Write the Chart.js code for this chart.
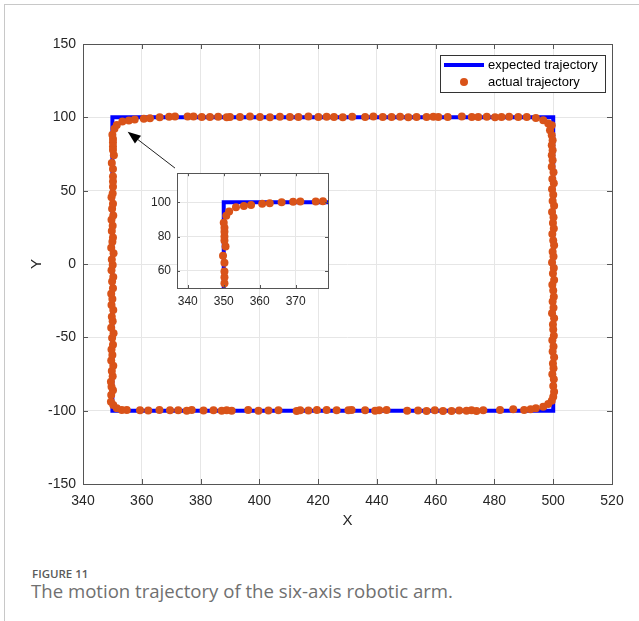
<!DOCTYPE html>
<html>
<head>
<meta charset="utf-8">
<script src="https://cdn.jsdelivr.net/npm/chart.js@4/dist/chart.umd.min.js"></script>
<style>
  body { margin: 0; background: #fff; width: 639px; height: 621px; overflow: hidden; position: relative; }
  .frame { position: absolute; left: 4px; top: 4px; right: -2px; bottom: -2px; border-top: 1px solid #c8c8c8; border-left: 1px solid #c8c8c8; }
  #main { position: absolute; left: 0; top: 0; }
  #inset { position: absolute; left: 130px; top: 160px; }
  .figno { position: absolute; left: 32px; top: 566px; font: 600 11.5px "Open Sans", sans-serif; color: #5a5a5a; }
  .caption { position: absolute; left: 31px; top: 578px; font: 400 18.6px "Open Sans", sans-serif; color: #707070; }
</style>
</head>
<body>
<div class="frame"></div>
<canvas id="main" width="639" height="540"></canvas>
<canvas id="inset" width="210" height="160"></canvas>
<div class="figno">FIGURE 11</div>
<div class="caption">The motion trajectory of the six-axis robotic arm.</div>
<script>
// expected path (rectangle), last point repeated so the corner gets a clean join
var expectedX = [350, 350, 500, 500, 350, 350];
var expectedY = [-100, 100, 100, -100, -100, 100];

// actual trajectory
var topX = [350.7,351.5,353.4,355.6,357.6,360.7,362.8,366.1,369.3,371.3,375.6,377.6,380.4,383.2,386.0,388.9,390.0,393.4,396.8,400.2,403.6,407.0,410.4,413.3,416.7,420.1,422.9,425.4,428.4,431.6,436.0,438.8,442.0,445.0,447.9,450.7,453.5,456.9,459.2,460.9,464.1,468.9,472.3,474.5,477.4,480.2,482.4,485.0,488.1,491.0,494.1,496.6,498.3,499.5];
var topY = [92.2,94.7,97.2,97.9,98.5,99.1,99.4,100.0,100.4,100.5,100.5,100.6,100.3,100.2,100.4,100.1,100.3,100.2,100.5,100.3,100.1,100.4,100.2,100.3,100.5,100.2,100.4,100.3,100.1,100.4,100.2,100.5,100.3,100.2,100.4,100.1,100.3,100.2,100.4,100.3,100.2,100.5,100.2,100.3,100.4,100.1,100.3,100.4,100.2,100.3,99.6,98.0,95.8,94.6];

var rightX = [498.9,499.5,499.8,499.5,499.8,499.5,499.8,499.5,500.1,499.7,500.2,499.6,500.0,499.8,500.3,499.6,500.1,499.9,500.2,499.7,500.0,500.3,499.8,500.1,499.6,500.2,499.9,500.3,499.7,500.0,500.2,499.8,500.1,499.6,500.3,499.9,500.0,500.2,499.7,500.1,499.8,500.3,499.9,500.1,499.7,500.2,500.0,500.3,500.0,499.5,498.3,496.6,494.1];
var rightY = [91.2,87.8,84.4,81.0,77.6,74.2,70.8,66.3,62.5,58.0,55.1,51.0,47.3,43.0,39.8,35.4,31.9,28.0,24.2,20.5,16.0,12.7,8.4,5.1,1.0,-2.8,-6.5,-10.9,-14.2,-18.0,-22.3,-25.6,-29.8,-33.5,-37.0,-41.2,-44.6,-48.9,-52.0,-56.3,-59.7,-63.5,-67.8,-71.0,-75.2,-78.6,-83.2,-87.1,-90.5,-93.2,-95.5,-97.3,-98.4];

var bottomX = [492.3,490.1,486.4,481.9,476.2,473.9,472.2,470.5,468.0,465.4,462.5,459.7,456.9,454.0,450.3,443.3,440.8,439.4,436.0,431.4,430.3,426.3,422.9,419.6,416.7,413.9,412.7,406.5,403.1,399.7,396.2,390.6,388.9,387.2,384.4,381.0,377.0,375.3,372.4,369.6,366.0,362.2,359.4,354.9,353.2,351.5,350.3];
var bottomY = [-99.1,-99.5,-99.1,-99.6,-99.8,-100.2,-99.7,-100.1,-99.9,-100.3,-100.2,-99.8,-100.3,-99.9,-100.1,-99.6,-99.8,-100.0,-99.7,-99.6,-99.8,-99.7,-99.5,-99.6,-99.9,-99.8,-100.2,-99.7,-99.9,-100.1,-99.6,-100.0,-99.8,-100.1,-99.7,-99.9,-99.6,-100.0,-99.7,-99.8,-99.6,-99.9,-99.7,-99.5,-99.5,-98.4,-96.1];

var leftX = [349.5,349.6,350.2,349.7,349.5,350.1,349.8,350.3,349.6,350.0,349.7,350.2,349.9,350.4,349.6,350.1,349.8,350.3,349.7,350.0,349.6,350.2,349.9,350.3,349.7,350.1,349.8,350.4,349.6,350.0,350.2,349.8,350.1,349.7,350.3,349.9,350.2,349.7,350.1,350.2,350.2,350.2,350.2,349.8,350.5,350.2,350.2,350.2,350.2,350.0];
var leftY = [-93.9,-89.3,-86.0,-83.7,-80.2,-76.5,-73.0,-69.4,-65.8,-62.1,-58.3,-55.0,-50.5,-47.2,-43.5,-39.0,-35.9,-31.4,-28.0,-23.8,-20.3,-16.5,-12.0,-8.8,-4.2,-0.6,3.0,7.4,11.0,15.1,18.0,22.5,26.0,30.2,33.0,37.6,41.0,45.5,48.0,52.7,56.3,59.7,64.8,68.8,74.2,77.7,80.1,82.8,85.2,88.1];

var xTicks = [340, 360, 380, 400, 420, 440, 460, 480, 500, 520];
var yTicks = [-150, -100, -50, 0, 50, 100, 150];
var insetXTicks = [340, 350, 360, 370];
var insetYTicks = [60, 80, 100];

// arrow from inset to the zoomed corner (data units)
var arrowFrom = [371.3, 65.4];
var arrowTo = [355.2, 90.2];

var BLUE = '#0000ff';
var ORANGE = '#d95319';
var AXIS = '#262626';
var FONT = '"Liberation Sans", Arial, Helvetica, sans-serif';

function toPoints(xs, ys){
    var out = [];
    for (var i = 0; i < xs.length; i++) out.push({x: xs[i], y: ys[i]});
    return out;
}
var actualPts = [].concat(toPoints(topX, topY), toPoints(rightX, rightY), toPoints(bottomX, bottomY), toPoints(leftX, leftY));
var expectedPts = toPoints(expectedX, expectedY);

// matlab style box with inward ticks
var framePlugin = {
    id: 'frame',
    afterDatasetsDraw: function(chart, args, opts){
        var a = chart.chartArea, ctx = chart.ctx;
        var len = opts.tick || 5;
        ctx.save();
        ctx.strokeStyle = opts.color || '#666';
        ctx.lineWidth = 1;
        ctx.beginPath();
        chart.scales.x.ticks.forEach(function(t){
            var px = Math.round(chart.scales.x.getPixelForValue(t.value)) + 0.5;
            ctx.moveTo(px, a.bottom); ctx.lineTo(px, a.bottom - len);
            ctx.moveTo(px, a.top); ctx.lineTo(px, a.top + len);
        });
        chart.scales.y.ticks.forEach(function(t){
            var py = Math.round(chart.scales.y.getPixelForValue(t.value)) + 0.5;
            ctx.moveTo(a.left, py); ctx.lineTo(a.left + len, py);
            ctx.moveTo(a.right, py); ctx.lineTo(a.right - len, py);
        });
        ctx.stroke();
        ctx.strokeRect(Math.round(a.left) + 0.5, Math.round(a.top) + 0.5, Math.round(a.right - a.left), Math.round(a.bottom - a.top));
        ctx.restore();
    }
};

var whiteBg = {
    id: 'whiteBg',
    beforeDraw: function(chart, args, opts){
        if (!opts.on) return;
        var a = chart.chartArea;
        chart.ctx.save();
        chart.ctx.fillStyle = '#fff';
        chart.ctx.fillRect(a.left, a.top, a.right - a.left, a.bottom - a.top);
        chart.ctx.restore();
    }
};

var legendBox = {
    id: 'legendBox',
    afterDraw: function(chart){
        var a = chart.chartArea, ctx = chart.ctx;
        var r = a.right - 7, t = a.top + 11, w = 165, h = 37;
        var l = r - w;
        ctx.save();
        ctx.fillStyle = '#fff';
        ctx.fillRect(l, t, w, h);
        ctx.strokeStyle = '#333';
        ctx.lineWidth = 1;
        ctx.strokeRect(Math.round(l) + 0.5, Math.round(t) + 0.5, w, h);
        ctx.strokeStyle = BLUE;
        ctx.lineWidth = 4;
        ctx.beginPath();
        ctx.moveTo(l + 4, t + 10); ctx.lineTo(l + 44, t + 10);
        ctx.stroke();
        ctx.fillStyle = ORANGE;
        ctx.beginPath();
        ctx.arc(l + 24, t + 27, 4, 0, Math.PI * 2);
        ctx.fill();
        ctx.fillStyle = '#000';
        ctx.font = '13px ' + FONT;
        ctx.textBaseline = 'middle';
        ctx.fillText('expected trajectory', l + 48, t + 10);
        ctx.fillText('actual trajectory', l + 48, t + 27);
        ctx.restore();
    }
};

var arrowPlugin = {
    id: 'arrow',
    afterDatasetsDraw: function(chart){
        var x = chart.scales.x, y = chart.scales.y, ctx = chart.ctx;
        var x0 = x.getPixelForValue(arrowFrom[0]), y0 = y.getPixelForValue(arrowFrom[1]);
        var x1 = x.getPixelForValue(arrowTo[0]), y1 = y.getPixelForValue(arrowTo[1]);
        var ang = Math.atan2(y1 - y0, x1 - x0);
        var hl = 13, hw = 5;
        var bx = x1 - hl * Math.cos(ang), by = y1 - hl * Math.sin(ang);
        ctx.save();
        ctx.strokeStyle = '#222';
        ctx.lineWidth = 1;
        ctx.beginPath();
        ctx.moveTo(x0, y0); ctx.lineTo(bx, by);
        ctx.stroke();
        ctx.fillStyle = '#000';
        ctx.beginPath();
        ctx.moveTo(x1, y1);
        ctx.lineTo(bx + hw * Math.sin(ang), by - hw * Math.cos(ang));
        ctx.lineTo(bx - hw * Math.sin(ang), by + hw * Math.cos(ang));
        ctx.closePath();
        ctx.fill();
        ctx.restore();
    }
};

function datasets(r, clip){
    return [
        {
            label: 'actual trajectory',
            data: actualPts,
            pointRadius: r,
            pointBackgroundColor: ORANGE,
            pointBorderWidth: 0,
            showLine: false,
            order: 0,
            clip: clip
        },
        {
            label: 'expected trajectory',
            data: expectedPts,
            showLine: true,
            borderColor: BLUE,
            borderWidth: 4,
            borderJoinStyle: 'miter',
            borderCapStyle: 'butt',
            pointRadius: 0,
            order: 1,
            clip: clip === false ? false : 0
        }
    ];
}

function axis(min, max, ticks, fontSize, pad, size, horiz, title){
    var s = {
        type: 'linear',
        min: min,
        max: max,
        afterBuildTicks: function(sc){ sc.ticks = ticks.map(function(v){ return {value: v}; }); },
        afterFit: function(sc){ if (horiz) sc.height = size; else sc.width = size; },
        grid: { color: '#e6e6e6', drawTicks: false },
        border: { display: false },
        ticks: { color: AXIS, padding: pad, font: { family: FONT, size: fontSize } }
    };
    if (title) s.title = title;
    return s;
}

Chart.defaults.animation = false;

new Chart(document.getElementById('main'), {
    type: 'scatter',
    data: { datasets: datasets(4, false) },
    options: {
        responsive: false,
        devicePixelRatio: 1,
        layout: { padding: { top: 44, right: 27, left: 0, bottom: 0 } },
        scales: {
            x: axis(340, 520, xTicks, 14, 9, 56, true, { display: true, text: 'X', color: AXIS, font: { family: FONT, size: 15 }, padding: { bottom: 10, top: 0 } }),
            y: axis(-150, 150, yTicks, 14, 7, 83, false, { display: true, text: 'Y', color: AXIS, font: { family: FONT, size: 15 }, padding: { top: 28, bottom: 0 } })
        },
        plugins: { legend: { display: false }, tooltip: { enabled: false }, frame: { color: '#555', tick: 5 } }
    },
    plugins: [framePlugin, arrowPlugin, legendBox]
});

new Chart(document.getElementById('inset'), {
    type: 'scatter',
    data: { datasets: datasets(4, 0) },
    options: {
        responsive: false,
        devicePixelRatio: 1,
        layout: { padding: { top: 10, right: 12, left: 0, bottom: 0 } },
        scales: {
            x: axis(337, 379, insetXTicks, 12, 6, 32, true),
            y: axis(50, 117, insetYTicks, 12, 6, 47, false)
        },
        plugins: { legend: { display: false }, tooltip: { enabled: false }, frame: { color: '#555', tick: 3 }, whiteBg: { on: true } }
    },
    plugins: [whiteBg, framePlugin]
});
</script>
</body>
</html>
